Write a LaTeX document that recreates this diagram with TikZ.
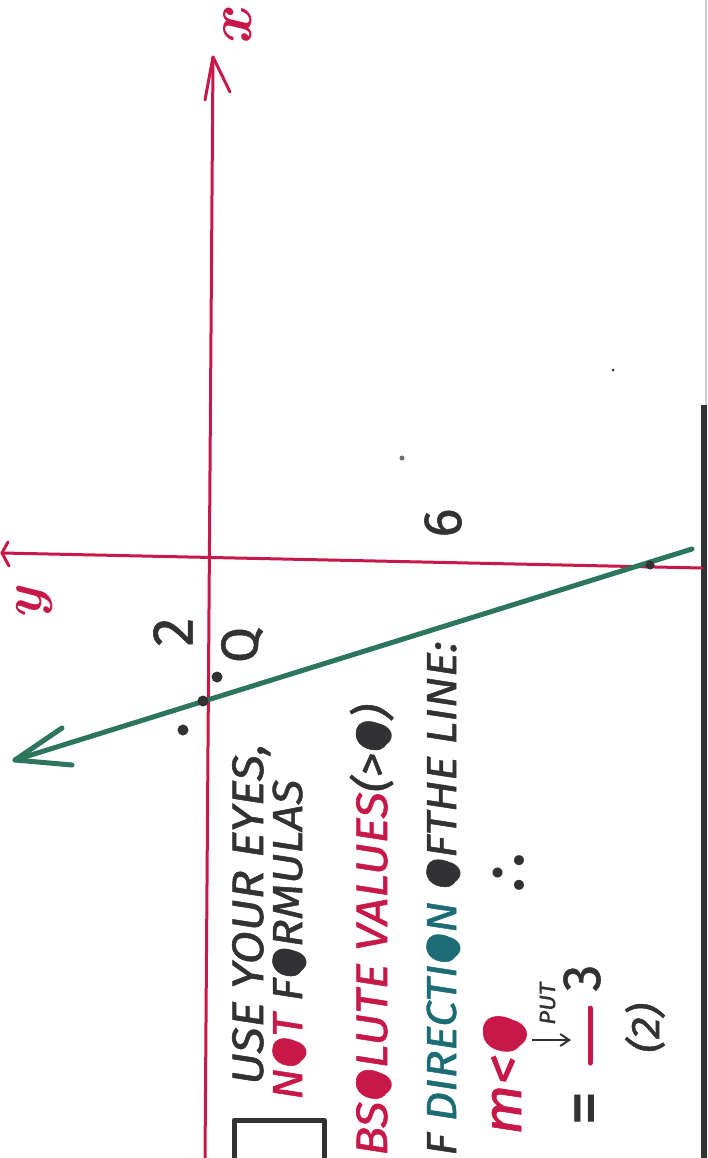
\documentclass[tikz,border=0pt]{standalone}
\usepackage{fontspec}
\usepackage{graphicx}
\usetikzlibrary{arrows.meta}
\setmainfont{Fira Sans}
\newfontfamily\hand{Fira Sans}[FakeStretch=1.1, FakeBold=1.2]
\newfontfamily\plain{Fira Sans}[FakeBold=1]
\newfontfamily\lmr{Latin Modern Roman}
\newfontfamily\lmm{Latin Modern Math}
\newfontfamily\symf{DejaVu Sans}
\definecolor{pen}{RGB}{200,24,72}
\definecolor{grn}{RGB}{44,118,92}
\definecolor{tealink}{RGB}{28,108,118}
\definecolor{ink}{RGB}{50,50,52}
\newcommand{\fillO}{\setbox0\hbox{O}\rlap{O}\makebox[\wd0][c]{\raisebox{0.01em}{\scalebox{0.75}[1.05]{\symf ●}}}}
\newcommand{\fsz}[1]{\fontsize{#1}{#1}\selectfont}
\tikzset{
  axisln/.style={draw=pen, line width=3pt, line cap=round, line join=round},
  gline/.style={draw=grn, line width=5pt, line cap=round, line join=round},
  txt/.style={rotate=90, anchor=base west, inner sep=0pt, text=ink},
  ctxt/.style={rotate=90, anchor=center, inner sep=0pt, text=ink},
  dotmark/.style={circle, fill=ink, inner sep=0pt, minimum size=11pt},
}
\begin{document}
\begin{tikzpicture}[x=1pt, y=-1pt]
\useasboundingbox (0,0) rectangle (707,1158);
\clip (0,0) rectangle (707,1158);
\fill[white] (0,0) rectangle (707,1158);

% right border of the sheet
\draw[gray!35, line width=1.5pt] (706,0) -- (706,405);
\draw[ink, line width=6pt] (704,405) -- (704,1160);

% x axis (vertical) with open arrow head
\coordinate (xb) at (205,1160);
\coordinate (xt) at (213,57);
\coordinate (xa1) at (205,100);
\coordinate (xa2) at (230,92);
\draw[axisln] (xb) -- (xt);
\draw[axisln] (xa1) -- (xt) -- (xa2);
\node[ctxt, text=pen, font=\lmr\itshape\bfseries\fsz{62}] (xlab) at (238,28) {x};

% y axis (horizontal) with open arrow head
\coordinate (yl) at (2,553);
\coordinate (yr) at (702,568);
\coordinate (ya1) at (8,542);
\coordinate (ya2) at (9,566);
\draw[axisln] (yr) -- (yl);
\draw[axisln] (ya1) -- (yl) -- (ya2);
\node[ctxt, text=pen, font=\lmr\itshape\bfseries\fsz{56}] (ylab) at (34,604) {y};

% green line with arrow
\coordinate (gr) at (692,549);
\coordinate (gl) at (15,760);
\coordinate (ga1) at (62,728);
\coordinate (ga2) at (72,765);
\draw[gline] (gr) -- (gl);
\draw[gline] (ga1) -- (gl) -- (ga2);

% intercept marks and points
\node[dotmark] (p2) at (203,701) {};
\node[dotmark, minimum size=9pt] (p6) at (650,565) {};
\node[dotmark] (q) at (217,677) {};
\node[dotmark] (r) at (183,730) {};
\node[circle, fill=ink, inner sep=0pt, minimum size=3pt] (speck) at (613,370) {};
\node[circle, fill=ink!70, inner sep=0pt, minimum size=5pt] (smudge) at (402,458) {};

% labels on the graph
\node[ctxt, font=\plain\fsz{58}] (two) at (173,632) {2};
\node[ctxt, font=\plain\fsz{52}] (qlab) at (242,645) {Q};
\node[ctxt, font=\plain\fsz{54}] (six) at (443,523) {6};

% box
\draw[ink, line width=5pt, line join=round] (234,1175) -- (234,1120) -- (324,1120) -- (324,1175);

% notes
\node[txt, font=\hand\itshape\fsz{44}] (t1) at (263,1085) {USE YOUR EYES,};
\node[txt, font=\hand\itshape\fsz{42}] (t2) at (302,1100) {\textcolor{pen}{N\fillO T} F\fillO RMULAS};
\node[txt, font=\hand\itshape\fsz{44}] (t3) at (387,1156) {\textcolor{pen}{BS\fillO LUTE VALUES}(>\fillO)};
\node[txt, font=\hand\itshape\fsz{42}] (t4) at (456,1156) {F \textcolor{tealink}{DIRECTI\fillO N} \fillO FTHE LINE:};
\node[txt, font=\hand\itshape\fsz{54}] (t5) at (521,1135) {\textcolor{pen}{m<\fillO}};
\node[ctxt, font=\lmm\fsz{95}] (there) at (513,873) {∴};
\node[txt, font=\hand\itshape\fsz{22}] (put) at (555,1025) {PUT};
\coordinate (pa) at (532,1040);
\coordinate (pb) at (571,1040);
\draw[ink, line width=2pt, -{Straight Barb[length=9pt, width=12pt]}] (pa) -- (pb);
\node[ctxt, font=\plain\fsz{70}] (eq) at (591,1108) {=};
\coordinate (ba) at (590,1008);
\coordinate (bb) at (590,1063);
\draw[pen, line width=5pt, line cap=round] (ba) -- (bb);
\node[ctxt, font=\plain\fsz{54}] (three) at (582,978) {3};
\node[ctxt, font=\hand\itshape\fsz{40}] (eqno) at (645,1028) {(2)};
\end{tikzpicture}
\end{document}
